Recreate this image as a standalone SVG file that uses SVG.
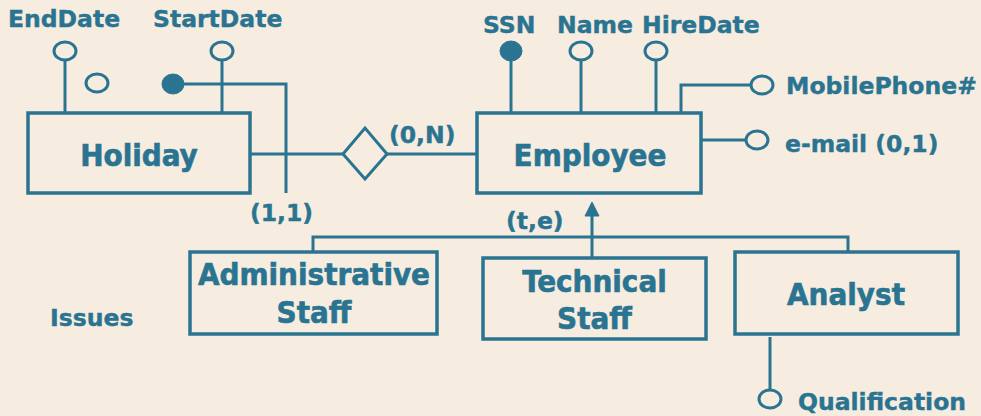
<svg xmlns="http://www.w3.org/2000/svg" width="981" height="416" viewBox="0 0 981 416">
<style>
.bg{fill:#f6ede0}
.ent{fill:none;stroke:#2a7492;stroke-width:3.5}
.ln{fill:none;stroke:#2a7492;stroke-width:3}
.att{fill:#f6ede0;stroke:#2a7492;stroke-width:3}
.key{fill:#2a7492;stroke:#2a7492;stroke-width:1}
.t{font-family:"DejaVu Sans","Verdana",sans-serif;font-weight:bold;font-size:23.5px;fill:#2a7492;stroke:#2a7492;stroke-width:0.4}
.e{font-family:"DejaVu Sans Condensed","DejaVu Sans",sans-serif;font-stretch:condensed;font-weight:bold;font-size:31px;fill:#2a7492;stroke:#2a7492;stroke-width:0.6;text-anchor:middle}
</style>
<rect class="bg" x="0" y="0" width="981" height="416"/>
<g id="connectors">
<line class="ln" x1="250" y1="154" x2="343" y2="154"/>
<line class="ln" x1="387" y1="154" x2="477" y2="154"/>
<polyline class="ln" points="184,84 286,84 286,193"/>
<line class="ln" x1="65" y1="60" x2="65" y2="113"/>
<line class="ln" x1="222" y1="60" x2="222" y2="113"/>
<line class="ln" x1="511" y1="60" x2="511" y2="113"/>
<line class="ln" x1="581" y1="60" x2="581" y2="113"/>
<line class="ln" x1="656" y1="60" x2="656" y2="113"/>
<polyline class="ln" points="681,113 681,85 751,85"/>
<line class="ln" x1="701" y1="140" x2="746" y2="140"/>
<polyline class="ln" points="313,252 313,237 848,237 848,252"/>
<line class="ln" x1="592" y1="258" x2="592" y2="214"/>
<polygon class="key" points="585,216 592,202 599,216"/>
<line class="ln" x1="770" y1="337" x2="770" y2="390"/>
</g>
<g id="holiday">
<rect class="ent" x="28" y="113" width="222" height="80"/>
<text class="e" x="139" y="166">Holiday</text>
</g>
<g id="employee">
<rect class="ent" x="477" y="113" width="224" height="80"/>
<text class="e" x="590" y="166">Employee</text>
</g>
<g id="issues">
<polygon class="ln" points="343,154 365,128 387,154 365,179"/>
</g>
<g id="admin">
<rect class="ent" x="190" y="252" width="247" height="82"/>
<text class="e" x="314" y="285">Administrative</text>
<text class="e" x="314" y="323">Staff</text>
</g>
<g id="technical">
<rect class="ent" x="483" y="258" width="223" height="81"/>
<text class="e" x="594.5" y="292">Technical</text>
<text class="e" x="594.5" y="329">Staff</text>
</g>
<g id="analyst">
<rect class="ent" x="735" y="252" width="223" height="82"/>
<text class="e" x="846" y="305">Analyst</text>
</g>
<g id="attributes">
<ellipse class="att" cx="65" cy="51" rx="11" ry="9"/>
<text class="t" x="8" y="27">EndDate</text>
<ellipse class="att" cx="97" cy="83" rx="11" ry="9"/>
<ellipse class="key" cx="173" cy="84" rx="11" ry="10"/>
<ellipse class="att" cx="222" cy="51" rx="11" ry="9"/>
<text class="t" x="153" y="27">StartDate</text>
<ellipse class="key" cx="511" cy="51" rx="11" ry="10"/>
<text class="t" x="483" y="33">SSN</text>
<ellipse class="att" cx="581" cy="51" rx="11" ry="9"/>
<text class="t" x="557" y="33">Name</text>
<ellipse class="att" cx="656" cy="51" rx="11" ry="9"/>
<text class="t" x="642" y="33">HireDate</text>
<ellipse class="att" cx="762" cy="85" rx="11" ry="9"/>
<text class="t" x="786" y="94">MobilePhone#</text>
<ellipse class="att" cx="757" cy="140" rx="11" ry="9"/>
<text class="t" x="785" y="152">e-mail (0,1)</text>
<ellipse class="att" cx="770" cy="399" rx="11" ry="9"/>
<text class="t" x="798" y="410">Qualification</text>
</g>
<g id="labels">
<text class="t" x="389" y="143">(0,N)</text>
<text class="t" x="250" y="221">(1,1)</text>
<text class="t" x="506" y="229">(t,e)</text>
<text class="t" x="50" y="326">Issues</text>
</g>
</svg>
